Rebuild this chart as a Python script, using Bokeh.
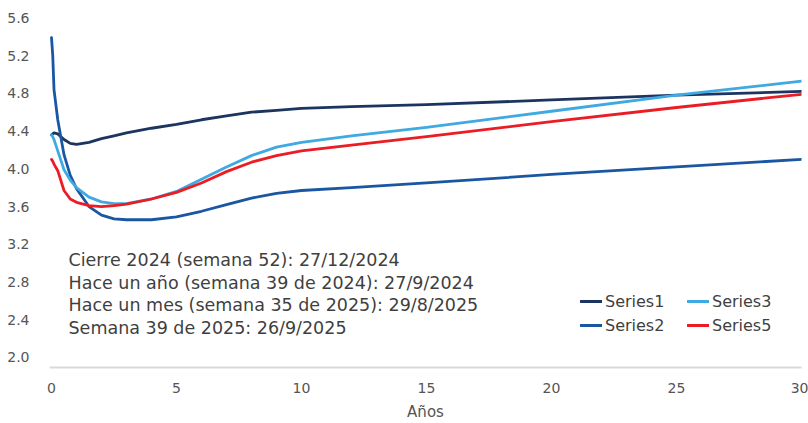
from bokeh.plotting import figure
from bokeh.models import (Range1d, FixedTicker, NumeralTickFormatter, Legend,
                          LegendItem, Label)
from bokeh.embed import file_html
from bokeh.resources import INLINE

# Yield curves by maturity (years)
maturity = [0, 0.05, 0.1, 0.25, 0.5, 0.75, 1, 1.5, 2, 2.5, 3, 4, 5, 6, 7, 8, 9,
            10, 12, 15, 20, 25, 30]
series1 = [4.36, 4.37, 4.38, 4.37, 4.31, 4.27, 4.26, 4.28, 4.32, 4.35, 4.38,
           4.43, 4.47, 4.52, 4.56, 4.60, 4.62, 4.64, 4.66, 4.68, 4.73, 4.78, 4.82]
series2 = [5.39, 5.20, 4.84, 4.52, 4.15, 3.93, 3.79, 3.60, 3.51, 3.47, 3.46,
           3.46, 3.49, 3.55, 3.62, 3.69, 3.74, 3.77, 3.80, 3.85, 3.94, 4.02, 4.10]
series3 = [4.36, 4.34, 4.31, 4.19, 3.99, 3.88, 3.80, 3.70, 3.65, 3.63, 3.63,
           3.68, 3.76, 3.89, 4.02, 4.14, 4.23, 4.28, 4.35, 4.44, 4.61, 4.78, 4.93]
series5 = [4.10, 4.08, 4.05, 3.98, 3.77, 3.68, 3.645, 3.61, 3.60, 3.61, 3.625,
           3.68, 3.75, 3.85, 3.97, 4.07, 4.14, 4.19, 4.25, 4.34, 4.50, 4.65, 4.79]

series_names = ["Series1", "Series2", "Series3", "Series5"]
series_colors = ["#1c3560", "#1a57a2", "#3fa9e1", "#ec1c24"]

notes = [
    "Cierre 2024 (semana 52): 27/12/2024",
    "Hace un año (semana 39 de 2024): 27/9/2024",
    "Hace un mes (semana 35 de 2025): 29/8/2025",
    "Semana 39 de 2025: 26/9/2025",
]

x_ticks = [0, 5, 10, 15, 20, 25, 30]
y_ticks = [2.0, 2.4, 2.8, 3.2, 3.6, 4.0, 4.4, 4.8, 5.2, 5.6]
x_title = "Años"

FONT = "DejaVu Sans"
TEXT = "#3f3f3f"
TICK = "#555555"

p = figure(width=808, height=423, output_backend="svg", toolbar_location=None,
           x_range=Range1d(-0.08, 30), y_range=Range1d(1.894, 5.731),
           min_border_left=49, min_border_right=7, min_border_top=5,
           min_border_bottom=55)
p.outline_line_color = None
p.xgrid.visible = False
p.ygrid.visible = False
p.background_fill_color = "white"
p.border_fill_color = "white"

renderers = []
for ys, col in zip([series1, series2, series3, series5], series_colors):
    r = p.line(maturity, ys, line_color=col, line_width=2.8,
               line_join="round", line_cap="round")
    renderers.append(r)

# y axis: labels only
ya = p.yaxis[0]
ya.ticker = FixedTicker(ticks=y_ticks)
ya.formatter = NumeralTickFormatter(format="0.0")
ya.axis_line_color = None
ya.major_tick_line_color = None
ya.minor_tick_line_color = None
ya.major_tick_out = 0
ya.major_label_standoff = 20
ya.major_label_text_font = FONT
ya.major_label_text_font_size = "14px"
ya.major_label_text_color = TICK

# x axis: light baseline with labels and title
xa = p.xaxis[0]
xa.ticker = FixedTicker(ticks=x_ticks)
xa.axis_line_color = "#d9d9d9"
xa.axis_line_width = 2
xa.major_tick_line_color = None
xa.minor_tick_line_color = None
xa.major_tick_out = 0
xa.major_label_standoff = 15
xa.major_label_text_font = FONT
xa.major_label_text_font_size = "14px"
xa.major_label_text_color = TICK
xa.axis_label = x_title
xa.axis_label_text_font = FONT
xa.axis_label_text_font_size = "15px"
xa.axis_label_text_font_style = "normal"
xa.axis_label_text_color = TICK
xa.axis_label_standoff = 7

# notes block
for i, line in enumerate(notes):
    p.add_layout(Label(x=19, y=107.5 - i * 22.5, x_units="screen", y_units="screen",
                       text=line, text_font=FONT, text_font_size="17.5px",
                       text_color=TEXT, text_baseline="middle"))

legend = Legend(
    items=[LegendItem(label=n, renderers=[r]) for n, r in zip(series_names, renderers)],
    location=(531, 32), orientation="vertical", nrows=2,
    border_line_color=None, background_fill_alpha=0,
    padding=0, margin=0, spacing=4,
    glyph_width=22, glyph_height=20, label_height=20, label_width=78,
    label_standoff=3,
    label_text_font=FONT, label_text_font_size="16px", label_text_color=TEXT,
)
p.add_layout(legend)

open("out.html", "w").write(file_html(p, INLINE))
